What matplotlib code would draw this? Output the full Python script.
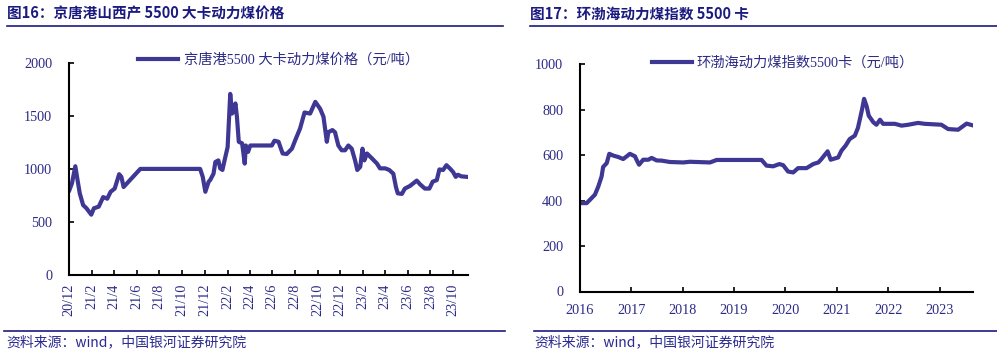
import numpy as np
import pandas as pd
import matplotlib
matplotlib.use("Agg")
import matplotlib.pyplot as plt
import matplotlib.dates as mdates
from matplotlib.lines import Line2D

plt.rcParams['font.family'] = ['Liberation Serif', 'Noto Sans CJK SC']

# 图16 京唐港山西产5500大卡 (元/吨)
jt_dates = ["2020-12-02", "2020-12-09", "2020-12-18", "2020-12-24", "2020-12-30",
            "2021-01-08", "2021-01-17", "2021-01-30", "2021-02-06", "2021-02-19",
            "2021-03-03", "2021-03-14", "2021-03-23", "2021-04-03", "2021-04-15",
            "2021-04-21", "2021-04-27", "2021-06-11", "2021-11-19", "2021-11-26",
            "2021-12-03", "2021-12-12", "2021-12-16", "2021-12-25", "2021-12-30",
            "2022-01-07", "2022-01-12", "2022-01-18", "2022-01-26", "2022-02-01",
            "2022-02-08", "2022-02-13", "2022-02-17", "2022-02-22", "2022-02-26",
            "2022-03-03", "2022-03-12", "2022-03-19", "2022-03-22", "2022-03-28",
            "2022-04-03", "2022-05-31", "2022-06-07", "2022-06-18", "2022-06-29",
            "2022-07-10", "2022-07-24", "2022-08-02", "2022-08-15", "2022-08-27",
            "2022-09-11", "2022-09-25", "2022-10-08", "2022-10-17", "2022-10-26",
            "2022-10-30", "2022-11-10", "2022-11-17", "2022-11-26", "2022-12-05",
            "2022-12-14", "2022-12-23", "2023-01-01", "2023-01-10", "2023-01-16",
            "2023-01-24", "2023-01-30", "2023-02-04", "2023-02-11", "2023-02-24",
            "2023-03-10", "2023-03-18", "2023-04-01", "2023-04-12", "2023-04-23",
            "2023-04-30", "2023-05-05", "2023-05-16", "2023-05-24", "2023-06-07",
            "2023-06-16", "2023-06-25", "2023-07-04", "2023-07-17", "2023-07-29",
            "2023-08-07", "2023-08-18", "2023-08-25", "2023-09-04", "2023-09-13",
            "2023-09-22", "2023-10-01", "2023-10-08", "2023-10-14", "2023-10-23",
            "2023-11-07"]
jt_price = [800, 865, 1025, 895, 770,
            660, 630, 570, 630, 645,
            735, 720, 785, 815, 950,
            925, 830, 1000, 1000, 925,
            785, 880, 895, 955, 1065,
            1080, 1005, 990, 1115, 1205,
            1705, 1520, 1550, 1615, 1490,
            1255, 1240, 1050, 1220, 1160,
            1220, 1220, 1265, 1255, 1145,
            1140, 1190, 1270, 1380, 1530,
            1520, 1630, 1565, 1490, 1255,
            1345, 1365, 1345, 1220, 1175,
            1175, 1220, 1190, 1080, 990,
            1020, 1190, 1080, 1145, 1100,
            1050, 1005, 1005, 990, 955,
            830, 770, 765, 815, 840,
            865, 890, 855, 815, 815,
            880, 895, 995, 990, 1035,
            1005, 970, 925, 945, 930,
            925]

# 图17 环渤海动力煤指数5500卡 (元/吨), x in decimal years
bsp_year = [2016.00, 2016.13, 2016.195, 2016.29, 2016.356, 2016.42, 2016.45, 2016.52,
            2016.57, 2016.65, 2016.745, 2016.84, 2016.91, 2016.97, 2017.07, 2017.115,
            2017.15, 2017.23, 2017.33, 2017.395, 2017.49, 2017.59, 2017.75, 2018.01,
            2018.14, 2018.53, 2018.66, 2018.92, 2019.535, 2019.63, 2019.76, 2019.88,
            2019.955, 2020.05, 2020.15, 2020.245, 2020.41, 2020.54, 2020.64, 2020.70,
            2020.82, 2020.88, 2021.025, 2021.09, 2021.17, 2021.25, 2021.35, 2021.41,
            2021.49, 2021.53, 2021.58, 2021.62, 2021.71, 2021.77, 2021.84, 2021.90,
            2022.13, 2022.26, 2022.39, 2022.58, 2022.71, 2023.035, 2023.165, 2023.36,
            2023.525, 2023.65]
bsp_index = [389, 389, 404, 426, 462, 506, 548, 565,
             606, 598, 592, 583, 595, 606, 595, 573,
             558, 580, 580, 588, 577, 576, 570, 568,
             571, 568, 579, 579, 579, 554, 551, 561,
             556, 528, 524, 543, 543, 561, 568, 583,
             617, 580, 590, 620, 642, 671, 686, 720,
             801, 848, 815, 774, 745, 734, 756, 738,
             738, 730, 734, 742, 738, 734, 715, 712,
             739, 731]

line_color = '#3f3794'
text_color = '#2c2b86'
navy = '#1b1a80'
W, H = 997, 359

fig = plt.figure(figsize=(W / 100, H / 100), dpi=100)


def fx(px):
    return px / W


def fy(py):
    return 1 - py / H


def style_axes(ax):
    for s in ['top', 'right']:
        ax.spines[s].set_visible(False)
    for s in ['left', 'bottom']:
        ax.spines[s].set_linewidth(1.5)
        ax.spines[s].set_color('black')
    ax.tick_params(direction='in', length=3.5, width=1.2, colors='black',
                   labelcolor=text_color, labelsize=10.3)
    ax.tick_params(axis='y', pad=12)


# ---------- left chart ----------
ax1 = fig.add_axes([fx(69), fy(275.3), fx(468 - 69), (275.3 - 62.5) / H])
d1 = pd.to_datetime(jt_dates)
ax1.plot(d1, jt_price, color=line_color, lw=3.0, solid_joinstyle='round')
ax1.set_ylim(0, 2000)
ax1.set_yticks([0, 500, 1000, 1500, 2000])
ax1.set_xlim(pd.Timestamp("2020-12-01"), pd.Timestamp("2023-11-10"))
ax1.xaxis.set_major_locator(mdates.MonthLocator(bymonth=[2, 4, 6, 8, 10, 12]))
ax1.xaxis.set_major_formatter(
    plt.FuncFormatter(lambda v, p: "{}/{}".format(mdates.num2date(v).year % 100, mdates.num2date(v).month)))
style_axes(ax1)
ax1.tick_params(axis='x', pad=6, labelrotation=90)

# ---------- right chart ----------
ax2 = fig.add_axes([fx(580), fy(291.5), fx(973 - 580), (291.5 - 64.3) / H])
ax2.plot(bsp_year, bsp_index, color=line_color, lw=3.0, solid_joinstyle='round')
ax2.set_ylim(0, 1000)
ax2.set_yticks(np.arange(0, 1001, 200))
ax2.set_xlim(2016, 2023.65)
ax2.set_xticks(range(2016, 2024))
style_axes(ax2)
ax2.tick_params(axis='x', pad=9)

# legends
leg_font = {'family': ['Liberation Serif', 'Noto Sans CJK SC'], 'size': 10.3}
h = Line2D([], [], color=line_color, lw=3.0)
l1 = fig.legend([h], ["京唐港5500 大卡动力煤价格（元/吨）"], loc='center left',
                bbox_to_anchor=(fx(138), fy(60)), frameon=False, prop=leg_font,
                handlelength=2.8, handletextpad=0.4, borderpad=0, borderaxespad=0)
l2 = fig.legend([h], ["环渤海动力煤指数5500卡（元/吨）"], loc='center left',
                bbox_to_anchor=(fx(652), fy(63)), frameon=False, prop=leg_font,
                handlelength=2.8, handletextpad=0.3, borderpad=0, borderaxespad=0)
for lg in (l1, l2):
    for t in lg.get_texts():
        t.set_color(text_color)

# titles, rules and sources
title_font = dict(family=['Noto Sans CJK SC'], fontsize=10.5, fontweight='bold', color=navy,
                  va='center', ha='left')
fig.text(fx(7), fy(14), "图16：京唐港山西产 5500 大卡动力煤价格", **title_font)
fig.text(fx(530), fy(14), "图17：环渤海动力煤指数 5500 卡", **title_font)

fig.add_artist(Line2D([fx(7), fx(503)], [fy(26), fy(26)], color=navy, lw=1.2))
fig.add_artist(Line2D([fx(530), fx(997)], [fy(26), fy(26)], color=navy, lw=1.2))
fig.add_artist(Line2D([fx(4), fx(505)], [fy(331), fy(331)], color=navy, lw=1.2))
fig.add_artist(Line2D([fx(534), fx(997)], [fy(331), fy(331)], color=navy, lw=1.2))

src_font = dict(family=['Noto Sans CJK SC'], fontsize=10, fontstyle='italic', color='#2a2a90',
                va='center', ha='left')
fig.text(fx(6), fy(342), "资料来源：wind，中国银河证券研究院", **src_font)
fig.text(fx(534), fy(342), "资料来源：wind，中国银河证券研究院", **src_font)

fig.savefig("out.png", dpi=100)
